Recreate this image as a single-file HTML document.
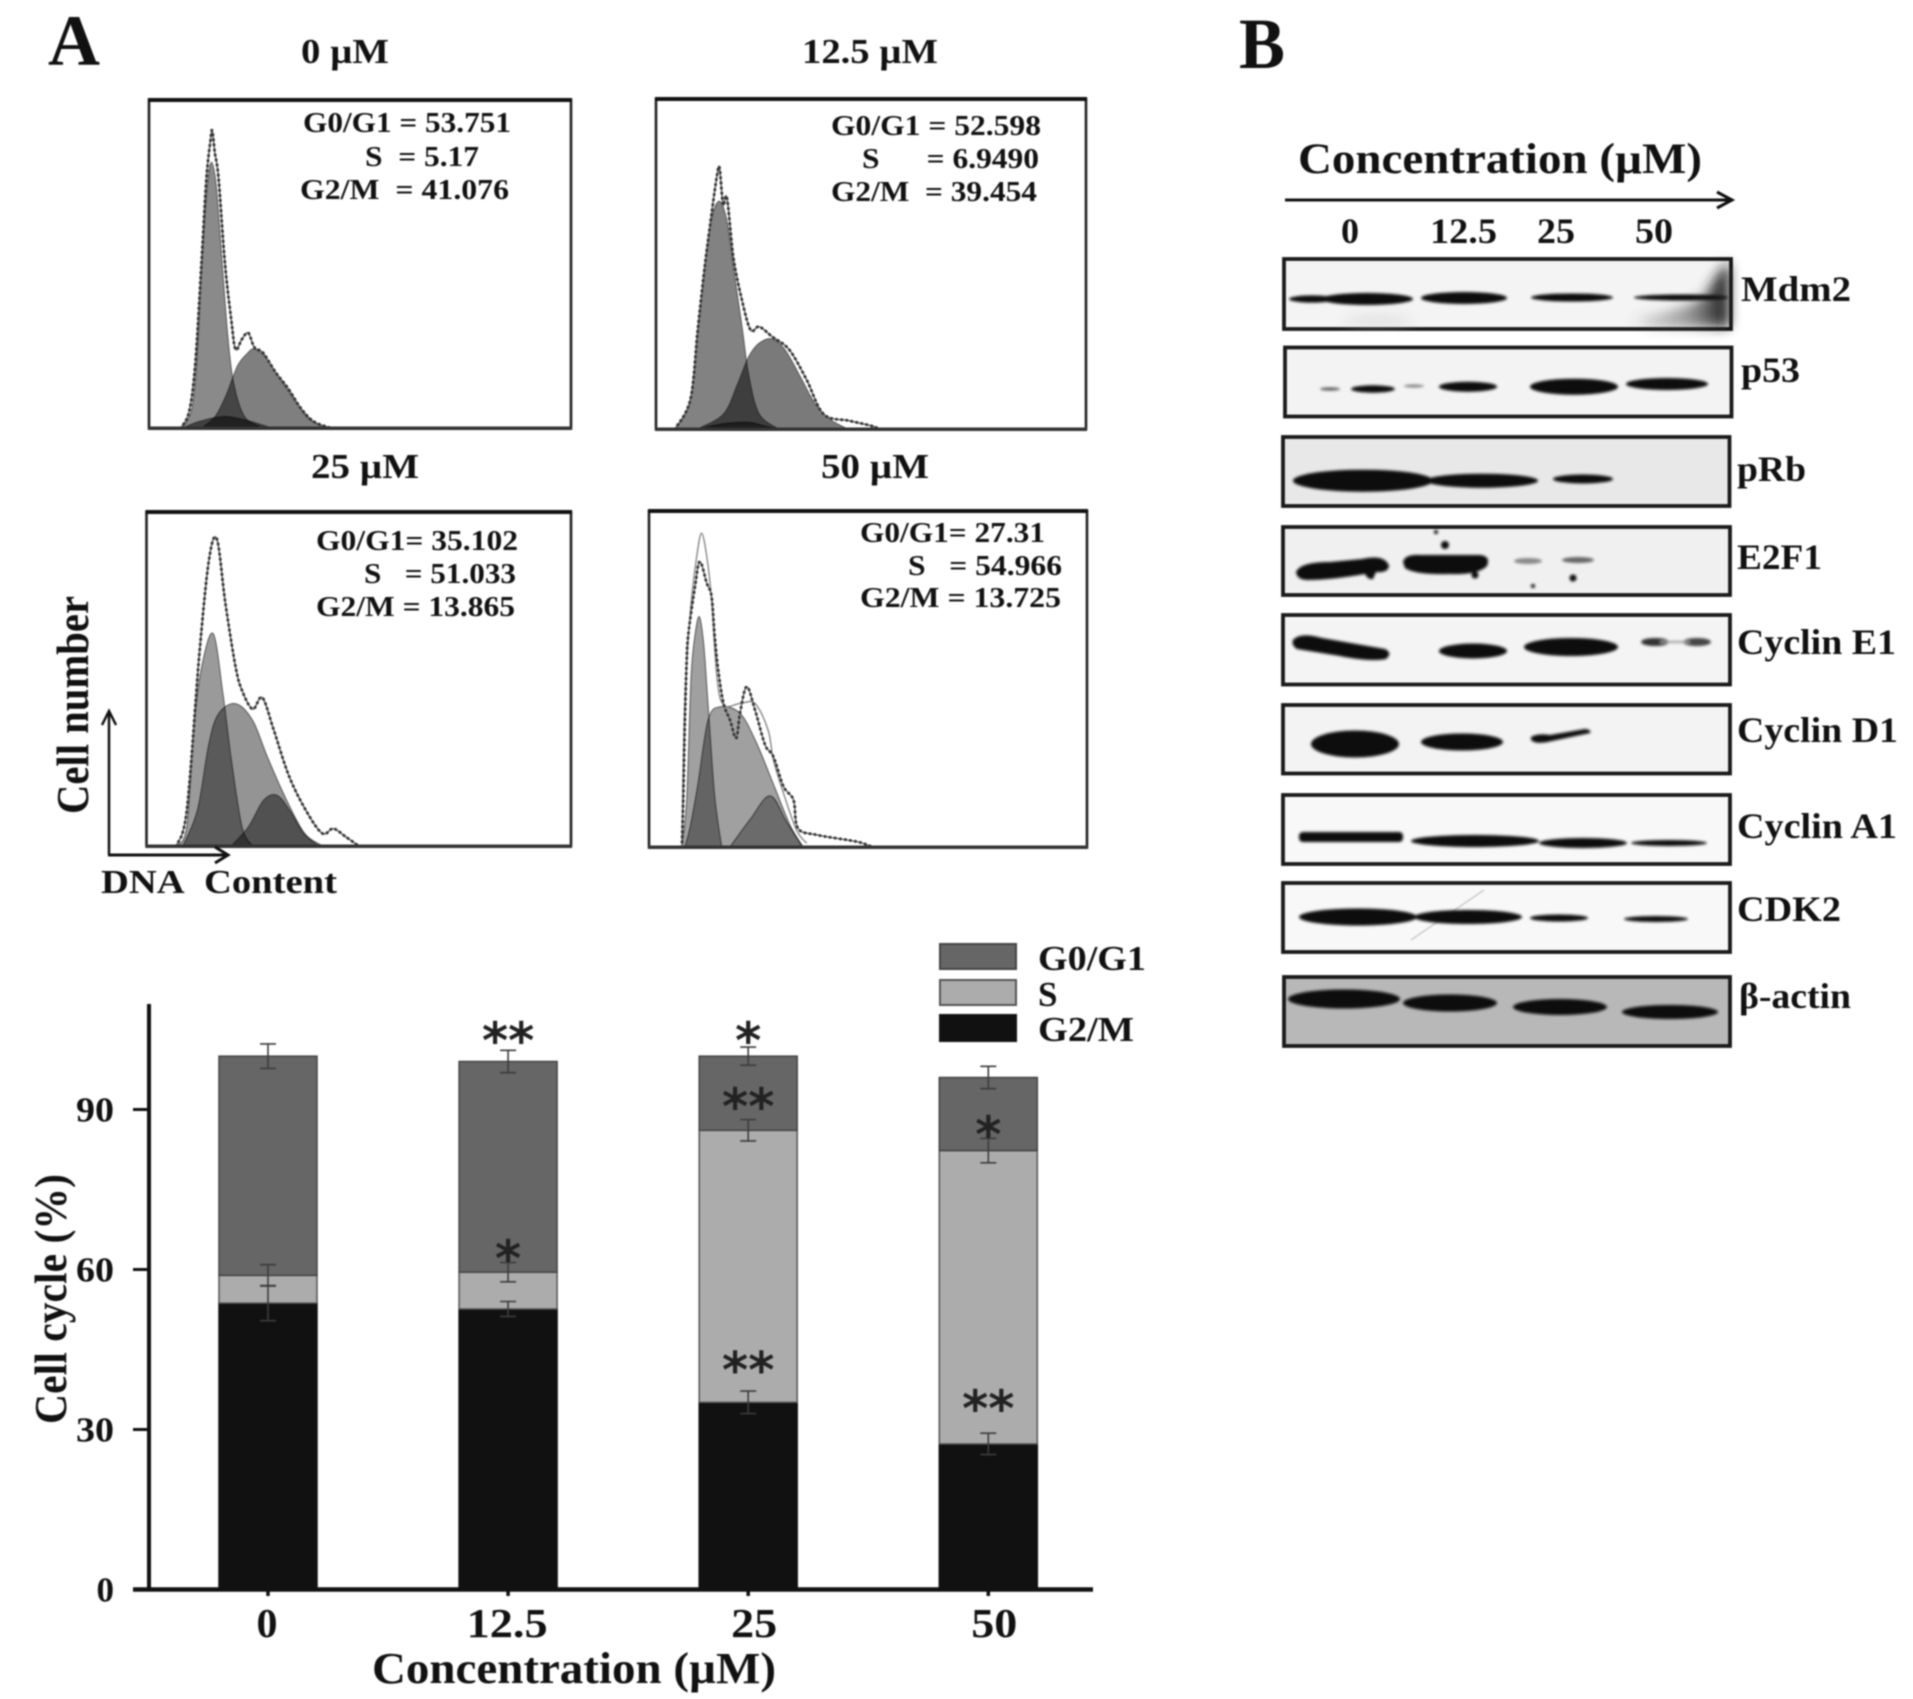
<!DOCTYPE html>
<html lang="en">
<head>
<meta charset="utf-8">
<title>Cell cycle analysis figure</title>
<style>
html,body{margin:0;padding:0;background:#fff;width:1913px;height:1699px;overflow:hidden}
svg{display:block;filter:blur(.7px)}
text{font-family:"Liberation Serif",serif;font-weight:bold;fill:#111}
.frame{fill:#fff;stroke:#222;stroke-width:2.6}
.blot{stroke:#1a1a1a;stroke-width:3.8}
.band{fill:#0d0d0d}
</style>
</head>
<body>
<svg id="figure" xmlns="http://www.w3.org/2000/svg" width="1913" height="1699" viewBox="0 0 1913 1699">
<defs>
<filter id="soft" x="-20%" y="-60%" width="140%" height="220%"><feGaussianBlur stdDeviation="1.4"/></filter>
<filter id="softer" x="-30%" y="-60%" width="160%" height="220%"><feGaussianBlur stdDeviation="6"/></filter>
<linearGradient id="smear" x1="0" x2="1" y1="0" y2="0"><stop offset="0" stop-color="#555" stop-opacity=".15"/><stop offset=".6" stop-color="#444" stop-opacity=".55"/><stop offset="1" stop-color="#111" stop-opacity="1"/></linearGradient>
</defs>
<rect width="1913" height="1699" fill="#fff"/>

<text x="48" y="65" font-size="72" textLength="52" lengthAdjust="spacingAndGlyphs">A</text>
<text x="1239" y="68" font-size="72" textLength="46" lengthAdjust="spacingAndGlyphs">B</text>

<text x="301" y="63" font-size="35" textLength="88" lengthAdjust="spacingAndGlyphs">0 µM</text>
<text x="802" y="63" font-size="35" textLength="136" lengthAdjust="spacingAndGlyphs">12.5 µM</text>
<text x="311" y="478" font-size="35" textLength="108" lengthAdjust="spacingAndGlyphs">25 µM</text>
<text x="821" y="478" font-size="35" textLength="108" lengthAdjust="spacingAndGlyphs">50 µM</text>

<g id="histograms"></g>

<g font-size="28">
<text x="303" y="132" textLength="208" lengthAdjust="spacingAndGlyphs">G0/G1 = 53.751</text>
<text x="365" y="166" textLength="114" lengthAdjust="spacingAndGlyphs">S&#160;&#160;= 5.17</text>
<text x="300" y="199" textLength="209" lengthAdjust="spacingAndGlyphs">G2/M&#160; = 41.076</text>
</g>
<g font-size="28">
<text x="831" y="135" textLength="210" lengthAdjust="spacingAndGlyphs">G0/G1 = 52.598</text>
<text x="862" y="168" textLength="177" lengthAdjust="spacingAndGlyphs">S&#160;&#160;&#160;&#160;&#160;&#160;= 6.9490</text>
<text x="831" y="201" textLength="206" lengthAdjust="spacingAndGlyphs">G2/M&#160; = 39.454</text>
</g>
<g font-size="28">
<text x="316" y="550" textLength="202" lengthAdjust="spacingAndGlyphs">G0/G1= 35.102</text>
<text x="364" y="583" textLength="152" lengthAdjust="spacingAndGlyphs">S&#160;&#160;&#160;= 51.033</text>
<text x="316" y="616" textLength="199" lengthAdjust="spacingAndGlyphs">G2/M = 13.865</text>
</g>
<g font-size="28">
<text x="860" y="542" textLength="185" lengthAdjust="spacingAndGlyphs">G0/G1= 27.31</text>
<text x="908" y="575" textLength="154" lengthAdjust="spacingAndGlyphs">S&#160;&#160;&#160;= 54.966</text>
<text x="860" y="607" textLength="201" lengthAdjust="spacingAndGlyphs">G2/M = 13.725</text>
</g>

<text transform="translate(88,814) rotate(-90)" font-size="45" textLength="218" lengthAdjust="spacingAndGlyphs">Cell number</text>
<g fill="none" stroke="#111" stroke-width="2.5">
<path d="M109 855V712M102 725L109 711L116 725"/>
<path d="M108 855H227M215 847L228 855L215 863" stroke-width="3"/>
</g>
<text x="101" y="893" font-size="34" textLength="236" lengthAdjust="spacingAndGlyphs">DNA&#160; Content</text>

<g id="bar-chart"></g>

<text transform="translate(66,1424) rotate(-90)" font-size="45" textLength="250" lengthAdjust="spacingAndGlyphs">Cell cycle (%)</text>
<text x="372" y="1683" font-size="44" textLength="404" lengthAdjust="spacingAndGlyphs">Concentration (µM)</text>

<g>
<rect x="940" y="944" width="76" height="25" fill="#666" stroke="#444" stroke-width="2"/>
<rect x="940" y="980" width="76" height="25" fill="#acacac" stroke="#555" stroke-width="2"/>
<rect x="940" y="1015" width="76" height="26" fill="#111" stroke="#111" stroke-width="2"/>
<text x="1038" y="970" font-size="35" textLength="108" lengthAdjust="spacingAndGlyphs">G0/G1</text>
<text x="1038" y="1006" font-size="35">S</text>
<text x="1038" y="1041" font-size="35" textLength="96" lengthAdjust="spacingAndGlyphs">G2/M</text>
</g>

<text x="1298" y="173" font-size="43" textLength="404" lengthAdjust="spacingAndGlyphs">Concentration (µM)</text>
<g fill="none" stroke="#111" stroke-width="3">
<path d="M1285 200H1730M1717 192L1732 200L1717 208"/>
</g>
<text x="1341" y="243" font-size="36" textLength="18" lengthAdjust="spacingAndGlyphs">0</text>
<text x="1430" y="243" font-size="36" textLength="67" lengthAdjust="spacingAndGlyphs">12.5</text>
<text x="1537" y="243" font-size="36" textLength="38" lengthAdjust="spacingAndGlyphs">25</text>
<text x="1635" y="243" font-size="36" textLength="38" lengthAdjust="spacingAndGlyphs">50</text>

<g>
<rect class="blot" x="1284" y="259" width="447" height="70" fill="#f4f4f4"/>
<g filter="url(#softer)"><path d="M1632 319Q1680 312 1705 296Q1714 276 1729 262V327H1650Z" fill="url(#smear)"/><ellipse cx="1378" cy="320" rx="35" ry="2.5" fill="#ccc"/></g>
<g filter="url(#soft)">
<ellipse class="band" cx="1312" cy="299" rx="23" ry="3.6"/>
<ellipse class="band" cx="1367" cy="299" rx="46" ry="6"/>
<ellipse class="band" cx="1464" cy="298" rx="43" ry="6"/>
<ellipse class="band" cx="1572" cy="297.5" rx="41" ry="4"/>
<ellipse class="band" cx="1681" cy="297.5" rx="47" ry="3"/>
</g>
</g>
<g>
<rect class="blot" x="1285" y="347.5" width="446.5" height="69" fill="#f3f3f3"/>
<g filter="url(#soft)">
<ellipse cx="1330" cy="389" rx="10" ry="1.8" fill="#666"/>
<ellipse class="band" cx="1373" cy="389" rx="22" ry="3.7"/>
<ellipse cx="1414" cy="386" rx="10" ry="1.6" fill="#888"/>
<ellipse class="band" cx="1468" cy="386.7" rx="29" ry="5"/>
<ellipse class="band" cx="1574" cy="386.7" rx="44" ry="8"/>
<ellipse class="band" cx="1667" cy="384" rx="41" ry="6"/>
</g>
</g>
<g>
<rect class="blot" x="1283" y="437" width="446.5" height="69" fill="#e8e8e8"/>
<g filter="url(#soft)">
<ellipse class="band" cx="1363" cy="480.7" rx="70" ry="11"/>
<ellipse class="band" cx="1482" cy="480.7" rx="56" ry="7"/>
<ellipse class="band" cx="1583" cy="479" rx="30" ry="4.5"/>
</g>
</g>
<g>
<rect class="blot" x="1283" y="527" width="447" height="68" fill="#f0f0f0"/>
<g filter="url(#soft)">
<path class="band" d="M1296 572Q1300 562 1330 562L1362 559Q1385 554 1389 566Q1388 573 1376 572L1373 579Q1368 580 1365 574Q1330 580 1308 580Q1297 580 1296 572Z"/>
<path class="band" d="M1403 562Q1405 554 1420 555H1480Q1491 556 1487 566Q1478 575 1450 574Q1415 575 1405 568Z"/>
<ellipse cx="1528" cy="561" rx="14" ry="3" fill="#888"/>
<ellipse cx="1578" cy="560" rx="16" ry="3" fill="#666"/>
<circle class="band" cx="1445" cy="545" r="4"/>
<circle class="band" cx="1475" cy="575" r="3.5"/>
<circle class="band" cx="1573" cy="578" r="3.5"/>
<circle class="band" cx="1533" cy="586" r="2"/>
<circle class="band" cx="1436" cy="532" r="2"/>
</g>
</g>
<g>
<rect class="blot" x="1283" y="615" width="447" height="69.5" fill="#f4f4f4"/>
<g filter="url(#soft)">
<path class="band" d="M1293 640Q1300 632 1322 638L1385 649Q1393 653 1386 659Q1370 662 1340 656L1297 649Q1291 645 1293 640Z"/>
<ellipse class="band" cx="1473" cy="651" rx="34" ry="7.5"/>
<ellipse class="band" cx="1571" cy="647" rx="47" ry="9"/>
<ellipse cx="1655" cy="642" rx="14" ry="4" fill="#333"/>
<ellipse cx="1697" cy="642" rx="14" ry="4" fill="#444"/>
<rect x="1660" y="641" width="30" height="2" fill="#999"/>
</g>
</g>
<g>
<rect class="blot" x="1283" y="705" width="447" height="68.5" fill="#f3f3f3"/>
<g filter="url(#soft)">
<ellipse class="band" cx="1355" cy="744" rx="44" ry="13.5"/>
<ellipse class="band" cx="1462" cy="742" rx="41" ry="8.5"/>
<path class="band" d="M1531 737Q1538 733 1550 735L1585 729Q1592 730 1590 733L1552 741Q1536 745 1531 740Z"/>
</g>
</g>
<g>
<rect class="blot" x="1283" y="795" width="447" height="69" fill="#f8f8f8"/>
<g filter="url(#soft)">
<rect class="band" x="1299" y="832" width="104" height="10" rx="4"/>
<ellipse class="band" cx="1475" cy="841" rx="64" ry="6"/>
<ellipse class="band" cx="1583" cy="843" rx="44" ry="5"/>
<ellipse class="band" cx="1669" cy="843" rx="38" ry="3"/>
</g>
</g>
<g>
<rect class="blot" x="1283" y="883" width="447" height="69" fill="#f8f8f8"/>
<path d="M1411 940L1484 890" stroke="#ccc" stroke-width="1.5" fill="none"/>
<g filter="url(#soft)">
<ellipse class="band" cx="1358" cy="917" rx="59" ry="8.5"/>
<ellipse class="band" cx="1468" cy="917" rx="54" ry="7"/>
<ellipse class="band" cx="1559" cy="918" rx="29" ry="3.5"/>
<ellipse class="band" cx="1656" cy="919" rx="32" ry="3"/>
</g>
</g>
<g>
<rect class="blot" x="1284" y="977" width="446" height="69" fill="#b8b8b8"/>
<g filter="url(#soft)">
<ellipse class="band" cx="1344" cy="999" rx="56" ry="9.5"/>
<ellipse class="band" cx="1450" cy="1003" rx="47" ry="8.5"/>
<ellipse class="band" cx="1560" cy="1007" rx="47" ry="8"/>
<ellipse class="band" cx="1670" cy="1012" rx="48" ry="7"/>
</g>
</g>

<text x="1741" y="301" font-size="36" textLength="110" lengthAdjust="spacingAndGlyphs">Mdm2</text>
<text x="1741" y="382" font-size="36" textLength="59" lengthAdjust="spacingAndGlyphs">p53</text>
<text x="1737" y="481" font-size="36" textLength="69" lengthAdjust="spacingAndGlyphs">pRb</text>
<text x="1737" y="569" font-size="36" textLength="85" lengthAdjust="spacingAndGlyphs">E2F1</text>
<text x="1737" y="654" font-size="36" textLength="159" lengthAdjust="spacingAndGlyphs">Cyclin E1</text>
<text x="1737" y="742" font-size="36" textLength="161" lengthAdjust="spacingAndGlyphs">Cyclin D1</text>
<text x="1737" y="838" font-size="36" textLength="160" lengthAdjust="spacingAndGlyphs">Cyclin A1</text>
<text x="1737" y="921" font-size="36" textLength="104" lengthAdjust="spacingAndGlyphs">CDK2</text>
<text x="1739" y="1008" font-size="36" textLength="112" lengthAdjust="spacingAndGlyphs">β-actin</text>
</svg>

<script>
// Stacked bar chart data
const categories = ['0', '12.5', '25', '50'];
const g2mValues = [53.7, 52.6, 35.1, 27.3];
const sValues = [5.2, 6.9, 51.0, 55.0];
const g0g1Values = [41.1, 39.5, 13.9, 13.7];
const g2mErrors = [3.3, 1.4, 2.1, 2.0];
const sErrors = [2.0, 1.8, 2.0, 2.3];
const g0g1Errors = [2.3, 2.1, 1.7, 2.1];
const yTickValues = [0, 30, 60, 90];
const sigCategoryIndex = [1, 2, 2, 1, 3, 2, 3];
const sigValues = [104.3, 104.3, 92, 63.5, 86.7, 42.6, 35.3];
const sigLabels = ['**', '*', '**', '*', '*', '**', '**'];

// DNA histogram data: [channel, count] readings, both on a 0-100 scale
const hist0G1 = [[7.8,0],[10,5],[11.3,19],[12.5,49],[13.8,73],[14.8,81],[16,73],[17.4,49],[18.6,29],[20,14],[22.6,3.5],[27,0]];
const hist0S = [[8,0],[12,2],[18,3.5],[24,2],[29,0]];
const hist0G2 = [[13,0.5],[15.7,3.5],[18.3,10],[21,19],[23.5,23],[25,24],[28,21],[31,15],[35,7.5],[38,2.5],[42,0]];
const hist0Total = [[7.5,0],[9.5,5],[11,20],[12.5,52],[13.6,76],[14.6,88],[15,90.6],[15.6,84],[16.5,76],[18,50],[19.5,33],[20.5,24],[22,27],[23.5,29],[25,24.5],[27,23],[30,17],[33,12],[36,6],[39,2],[43,0]];

const hist1G1 = [[4.6,0],[8,8.6],[9.7,29],[11.4,49],[13,64],[14.8,69],[16.5,63],[18,49],[20,31],[21.6,16],[24,4.5],[28.5,0]];
const hist1S = [[10,0],[15,1.5],[21.6,2],[25,1],[28.5,0]];
const hist1G2 = [[9.7,0],[15.7,4.5],[19,13.7],[21.6,22],[24,26],[27,27.3],[30,24],[33.5,16],[37,7.6],[40.4,3],[44.6,0]];
const hist1Total = [[4.4,0],[8,9],[9.7,30],[11.4,50],[13,66],[14.2,77],[14.8,79],[15.6,68],[16.5,70],[18,52],[20,39],[22,30],[24,31],[27,28],[31,24],[35,15],[39,4.5],[45,2.5],[50,1],[52,0]];

const hist2G1 = [[7,0],[9.5,5.7],[11.2,35.6],[13,53.6],[15.7,63.6],[18,45.6],[20,25.6],[22.5,5.7],[25,0]];
const hist2S = [[8.6,0],[12,10.7],[14.7,30.6],[17,39.6],[21,42.6],[25,37.6],[28.5,26.6],[33,13.7],[37.3,3.7],[41.5,0]];
const hist2G2 = [[20,0],[24,5.7],[27.6,13.7],[30.7,15.2],[33.7,10.7],[37,3.7],[40.6,0]];
const hist2Total = [[7,0],[9.5,10.7],[12.4,56.6],[14.7,85.5],[16.6,91.8],[18.6,72.5],[21,53.6],[22.5,46.6],[25,41],[27.3,44.4],[30,34.6],[33.7,20.5],[38,9.7],[41.5,3.7],[44,5.2],[47,2.7],[50,0]];

const hist3G1 = [[7.5,0],[8.6,14],[9.6,50],[10.5,63],[11.5,68.5],[12.5,60],[13.6,40],[15,15],[16.6,0]];
const hist3S = [[8.2,0],[9.4,6],[11.2,19],[13.5,37.8],[16.2,41.7],[20.8,39.8],[24.6,30.8],[28.3,19],[32.2,6.5],[35.2,0]];
const hist3G2 = [[18.5,0],[23,8],[27.6,15.2],[31.4,7.5],[35,0]];
const hist3Total = [[7.5,0],[7.8,13.5],[8.2,37.8],[8.6,55.6],[9,63.6],[10.5,77.5],[11.6,84.9],[13.2,78.5],[14.3,74.5],[15,62.6],[15.8,52.7],[17,42.8],[18.5,37.8],[19.9,32.4],[20.8,40],[22.3,47.7],[24.2,40.8],[26.5,30.4],[28.4,26.9],[30.7,18],[33,14],[34,5.6],[38.3,3.6],[47.4,1.6],[51,0]];
const hist3Fit = [[7.5,1.1],[8.2,43.8],[9.4,69.5],[10.9,86.4],[12,93.4],[13.2,86.4],[14.3,73.5],[15.5,50.7],[17,42.3],[20.8,42.7],[24.2,42.7],[27.2,34.8],[28.4,25.9],[30.7,16],[33.7,5],[36,1.1]];

const svgNS = 'http://www.w3.org/2000/svg';

function makeScale(domain0, domain1, range0, range1) {
  return function (v) {
    return range0 + (v - domain0) / (domain1 - domain0) * (range1 - range0);
  };
}

function smoothPath(points, xScale, yScale) {
  const p = points.map(function (d) { return [xScale(d[0]), yScale(d[1])]; });
  let d = 'M' + p[0][0].toFixed(1) + ' ' + p[0][1].toFixed(1);
  for (let i = 0; i < p.length - 1; i++) {
    const a = p[Math.max(i - 1, 0)], b = p[i], c = p[i + 1], e = p[Math.min(i + 2, p.length - 1)];
    d += 'C' + (b[0] + (c[0] - a[0]) / 6).toFixed(1) + ' ' + (b[1] + (c[1] - a[1]) / 6).toFixed(1) + ' '
      + (c[0] - (e[0] - b[0]) / 6).toFixed(1) + ' ' + (c[1] - (e[1] - b[1]) / 6).toFixed(1) + ' '
      + c[0].toFixed(1) + ' ' + c[1].toFixed(1);
  }
  return d;
}

function drawComponent(group, points, xScale, yScale, fill) {
  const area = document.createElementNS(svgNS, 'path');
  
  
  const base = yScale(0);
  area.setAttribute('d', smoothPath(points, xScale, yScale) + 'L' + xScale(points[points.length - 1][0]).toFixed(1) + ' ' + base + 'L' + xScale(points[0][0]).toFixed(1) + ' ' + base + 'Z');
  area.setAttribute('fill', fill);
  area.setAttribute('stroke', '#555');
  area.setAttribute('stroke-width', '1');
  area.style.mixBlendMode = 'multiply';
  group.appendChild(area);
}

function drawHistogram(box, g1, s, g2, total, fitLine, fills, name) {
  const host = document.getElementById('histograms');
  const group = document.createElementNS(svgNS, 'g');
  
  
  group.style.isolation = 'isolate';
  host.appendChild(group);

  const frame = document.createElementNS(svgNS, 'rect');
  
  
  frame.setAttribute('class', 'frame');
  frame.setAttribute('x', box.l);
  frame.setAttribute('y', box.t);
  frame.setAttribute('width', box.r - box.l);
  frame.setAttribute('height', box.b - box.t);
  group.appendChild(frame);

  const xScale = makeScale(0, 100, box.l, box.r);
  const yScale = makeScale(0, 100, box.b, box.t);

  drawComponent(group, g1, xScale, yScale, fills[0]);
  drawComponent(group, s, xScale, yScale, fills[1]);
  drawComponent(group, g2, xScale, yScale, fills[2]);

  const fit = document.createElementNS(svgNS, 'path');
  
  
  fit.setAttribute('d', smoothPath(fitLine, xScale, yScale));
  fit.setAttribute('fill', 'none');
  fit.setAttribute('stroke', '#888');
  fit.setAttribute('stroke-width', '1.4');
  group.appendChild(fit);

  const raw = document.createElementNS(svgNS, 'path');
  
  
  raw.setAttribute('d', smoothPath(total, xScale, yScale));
  raw.setAttribute('fill', 'none');
  raw.setAttribute('stroke', '#666');
  raw.setAttribute('stroke-width', '1.4');
  group.appendChild(raw);

  const dots = document.createElementNS(svgNS, 'path');
  
  
  dots.setAttribute('d', smoothPath(total, xScale, yScale));
  dots.setAttribute('fill', 'none');
  dots.setAttribute('stroke', '#333');
  dots.setAttribute('stroke-width', '3');
  dots.setAttribute('stroke-linecap', 'round');
  dots.setAttribute('stroke-dasharray', '0.1 5');
  group.appendChild(dots);

  const top = document.createElementNS(svgNS, 'rect');
  
  
  top.setAttribute('x', box.l - 1);
  top.setAttribute('y', box.t - 2);
  top.setAttribute('width', box.r - box.l + 2);
  top.setAttribute('height', 4);
  top.setAttribute('fill', '#111');
  group.appendChild(top);

  const bottom = document.createElementNS(svgNS, 'rect');
  
  
  bottom.setAttribute('x', box.l - 1);
  bottom.setAttribute('y', box.b - 1.5);
  bottom.setAttribute('width', box.r - box.l + 2);
  bottom.setAttribute('height', 3.5);
  bottom.setAttribute('fill', '#333');
  group.appendChild(bottom);
}

drawHistogram({l: 149, r: 571, t: 100, b: 428}, hist0G1, hist0S, hist0G2, hist0Total, hist0Total, ['#8a8a8a', '#777', '#7f7f7f'], 'histogram-0');
drawHistogram({l: 656, r: 1086, t: 99, b: 429}, hist1G1, hist1S, hist1G2, hist1Total, hist1Total, ['#828282', '#777', '#7a7a7a'], 'histogram-12-5');
drawHistogram({l: 146.5, r: 571, t: 512, b: 846}, hist2G1, hist2S, hist2G2, hist2Total, hist2Total, ['#9a9a9a', '#949494', '#8c8c8c'], 'histogram-25');
drawHistogram({l: 649, r: 1087, t: 511, b: 847}, hist3G1, hist3S, hist3G2, hist3Total, hist3Fit, ['#a0a0a0', '#a0a0a0', '#aaaaaa'], 'histogram-50');

// Bar chart
const chart = document.getElementById('bar-chart');
const chartY = makeScale(0, 90, 1589.5, 1109.5);
function chartX(i) {
  return 268 + i * 240.1;
}
const barWidth = 98;

function drawSegment(i, start, value, fill, stroke, name) {
  const r = document.createElementNS(svgNS, 'rect');
  
  
  r.setAttribute('x', chartX(i) - barWidth / 2);
  r.setAttribute('y', chartY(start + value));
  r.setAttribute('width', barWidth);
  r.setAttribute('height', chartY(start) - chartY(start + value));
  r.setAttribute('fill', fill);
  r.setAttribute('stroke', stroke);
  r.setAttribute('stroke-width', '1.5');
  chart.appendChild(r);
}

function drawError(i, center, err) {
  const cx = chartX(i);
  const hi = chartY(center + err), lo = chartY(center - err);
  const e = document.createElementNS(svgNS, 'path');
  
  
  e.setAttribute('d', 'M' + (cx - 8) + ' ' + hi + 'H' + (cx + 8) + 'M' + cx + ' ' + hi + 'V' + lo + 'M' + (cx - 8) + ' ' + lo + 'H' + (cx + 8));
  e.setAttribute('fill', 'none');
  e.setAttribute('stroke', '#3c3c3c');
  e.setAttribute('stroke-width', '1.6');
  chart.appendChild(e);
}

categories.forEach(function (c, i) {
  drawSegment(i, 0, g2mValues[i], '#111', '#111', 'bar-g2m-' + c);
  drawSegment(i, g2mValues[i], sValues[i], '#acacac', '#555', 'bar-s-' + c);
  drawSegment(i, g2mValues[i] + sValues[i], g0g1Values[i], '#666', '#444', 'bar-g0g1-' + c);
  drawError(i, g2mValues[i], g2mErrors[i]);
  drawError(i, g2mValues[i] + sValues[i], sErrors[i]);
  drawError(i, g2mValues[i] + sValues[i] + g0g1Values[i], g0g1Errors[i]);

  const tick = document.createElementNS(svgNS, 'path');
  
  
  tick.setAttribute('d', 'M' + chartX(i) + ' 1589V1596');
  tick.setAttribute('stroke', '#111');
  tick.setAttribute('stroke-width', '3.5');
  chart.appendChild(tick);

  const label = document.createElementNS(svgNS, 'text');
  
  
  label.setAttribute('x', chartX(i) + (i > 1 ? 6 : -1));
  label.setAttribute('y', 1637);
  label.setAttribute('text-anchor', 'middle');
  label.setAttribute('font-size', '41');
  label.setAttribute('textLength', c.length === 4 ? 81 : (c.length === 2 ? 46 : 21));
  label.setAttribute('lengthAdjust', 'spacingAndGlyphs');
  label.textContent = c;
  chart.appendChild(label);
});

const yAxis = document.createElementNS(svgNS, 'path');


yAxis.setAttribute('d', 'M149 1004V1591');
yAxis.setAttribute('stroke', '#111');
yAxis.setAttribute('stroke-width', '4');
chart.appendChild(yAxis);

const xAxis = document.createElementNS(svgNS, 'path');


xAxis.setAttribute('d', 'M133 1589.5H1093');
xAxis.setAttribute('stroke', '#111');
xAxis.setAttribute('stroke-width', '4.5');
chart.appendChild(xAxis);

yTickValues.forEach(function (v) {
  const tick = document.createElementNS(svgNS, 'path');
  
  
  tick.setAttribute('d', 'M133 ' + chartY(v) + 'H149');
  tick.setAttribute('stroke', '#111');
  tick.setAttribute('stroke-width', '3');
  chart.appendChild(tick);

  const label = document.createElementNS(svgNS, 'text');
  
  
  label.setAttribute('x', 114);
  label.setAttribute('y', chartY(v) + 12);
  label.setAttribute('text-anchor', 'end');
  label.setAttribute('font-size', '35');
  if (v > 0) {
    label.setAttribute('textLength', 38);
    label.setAttribute('lengthAdjust', 'spacingAndGlyphs');
  }
  label.textContent = String(v);
  chart.appendChild(label);
});

sigLabels.forEach(function (s, i) {
  const mark = document.createElementNS(svgNS, 'text');
  
  
  mark.setAttribute('x', chartX(sigCategoryIndex[i]));
  mark.setAttribute('y', chartY(sigValues[i]) + 25);
  mark.setAttribute('text-anchor', 'middle');
  mark.setAttribute('font-size', '50');
  mark.style.fontFamily = '"DejaVu Sans", sans-serif';
  mark.style.fontWeight = 'bold';
  mark.style.fill = '#222';
  mark.textContent = s;
  chart.appendChild(mark);
});
</script>
</body>
</html>
